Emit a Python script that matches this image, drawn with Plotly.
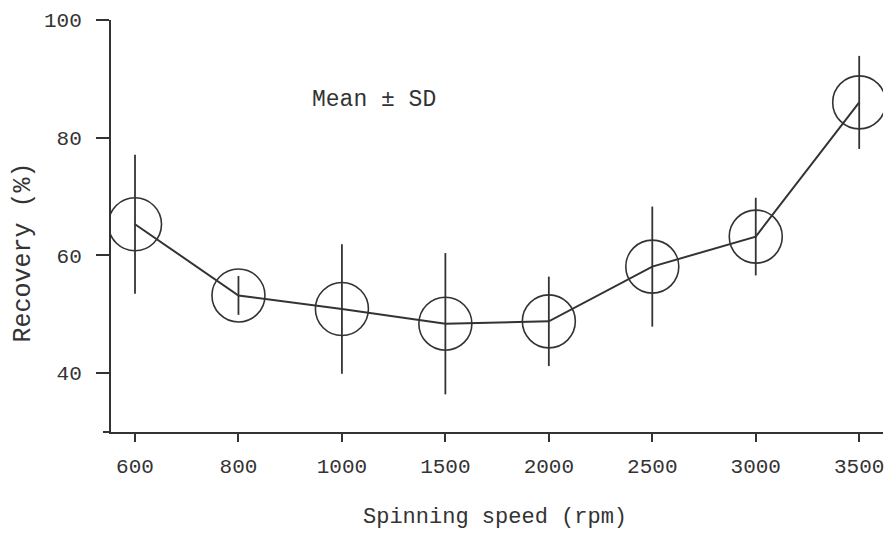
import plotly.graph_objects as go

categories = ["600", "800", "1000", "1500", "2000", "2500", "3000", "3500"]
recovery_mean = [65.3, 53.2, 50.9, 48.4, 48.8, 58.1, 63.2, 86.0]
recovery_sd = [11.8, 3.3, 11.0, 12.0, 7.6, 10.2, 6.6, 7.9]
y_ticks = [40, 60, 80, 100]

ink = "#333333"
mono = "Liberation Mono, DejaVu Sans Mono, monospace"

x_pos = list(range(len(categories)))

fig = go.Figure()
fig.add_trace(go.Scatter(
    x=x_pos,
    y=recovery_mean,
    mode="lines+markers",
    line=dict(color=ink, width=2),
    marker=dict(symbol="circle-open", size=53, color=ink, line=dict(width=1.6, color=ink)),
    error_y=dict(type="data", array=recovery_sd, visible=True, width=0, thickness=1.8, color=ink),
    showlegend=False,
    hoverinfo="skip",
))

fig.update_layout(
    width=894, height=540,
    margin=dict(l=111, r=11, t=20, b=108),
    paper_bgcolor="white", plot_bgcolor="white",
    font=dict(family=mono, color=ink),
    xaxis=dict(
        range=[-0.232, 7.23],
        tickmode="array", tickvals=x_pos, ticktext=categories,
        showline=True, linecolor=ink, linewidth=2,
        ticks="outside", ticklen=8, tickwidth=2, tickcolor=ink,
        showgrid=False, zeroline=False,
        tickfont=dict(family=mono, size=21, color=ink),
        ticklabelstandoff=6,
    ),
    yaxis=dict(
        range=[30, 100],
        tickmode="array", tickvals=y_ticks,
        showline=True, linecolor=ink, linewidth=2,
        ticks="outside", ticklen=13, tickwidth=2, tickcolor=ink,
        showgrid=False, zeroline=False,
        tickfont=dict(family=mono, size=21, color=ink),
        ticklabelstandoff=10,
    ),
    shapes=[
        dict(type="line", xref="paper", yref="paper", x0=-8 / 772, x1=0, y0=0, y1=0,
             line=dict(color=ink, width=2)),
    ],
    annotations=[
        dict(text="Spinning speed (rpm)", xref="paper", yref="paper",
             x=0.497, y=-0.2087, showarrow=False, xanchor="center", yanchor="middle",
             font=dict(family=mono, size=22, color=ink)),
        dict(text="Recovery (%)", xref="paper", yref="paper",
             x=-0.113, y=0.435, showarrow=False, xanchor="center", yanchor="middle",
             textangle=-90, font=dict(family=mono, size=25, color=ink)),
        dict(text="Mean ± SD", xref="paper", yref="paper",
             x=(374 - 111) / 772, y=(432 - 100) / 412, showarrow=False,
             xanchor="center", yanchor="middle",
             font=dict(family=mono, size=23, color=ink)),
    ],
)

fig.write_html("out.html")
